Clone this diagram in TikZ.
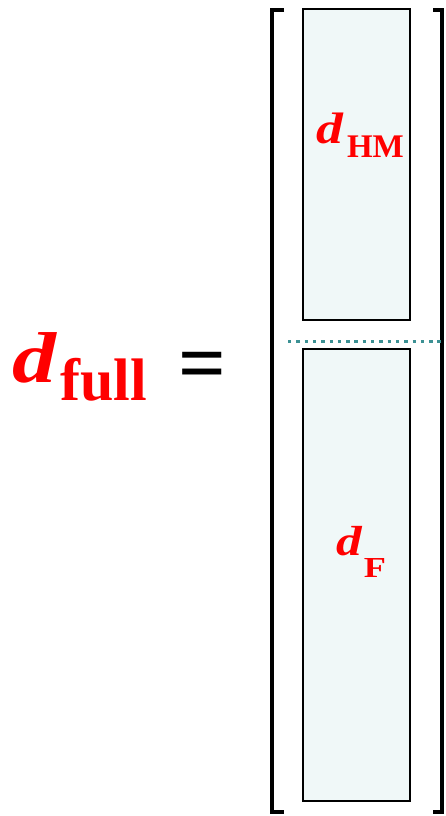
\documentclass[tikz,border=0pt]{standalone}
\usepackage{fontspec}
\usepackage{graphicx}
\setmainfont{Liberation Serif}
\definecolor{boxfill}{RGB}{240,248,248}
\definecolor{teal2}{RGB}{60,145,148}
\definecolor{lblred}{RGB}{255,0,0}
\newcommand{\wideglyph}[1]{\scalebox{1.22}[1]{#1}}
\begin{document}
\begin{tikzpicture}[x=1pt,y=-1pt,
  colbox/.style={draw=black,line width=2pt,fill=boxfill},
  brack/.style={draw=black,line width=4pt},
  lbl/.style={inner sep=0pt,anchor=base west,text=lblred}]
\useasboundingbox (0,0) rectangle (446,816);
% brackets
\draw[brack] (284,10) -- (271.5,10) -- (271.5,812) -- (284,812);
\draw[brack] (433,10) -- (442,10) -- (442,812) -- (433,812);
% boxes
\path[colbox] (303,9) rectangle (410,320);
\path[colbox] (303,349) rectangle (410,801);
% dotted separator
\coordinate (sepL) at (288,341.5);
\coordinate (sepR) at (446,341.5);
\draw[teal2,line width=3.4pt,dash pattern=on 3.4pt off 4.9pt] (sepL) -- (sepR);
% labels
\node[lbl] (dfull) at (12,382) {\fontsize{72}{72}\selectfont\bfseries\itshape \wideglyph{d}\hspace{4pt}\raisebox{-18pt}{\fontsize{60}{60}\selectfont\upshape full}};
\node[inner sep=0pt,anchor=base] (eq) at (202.5,391) {\fontsize{84}{84}\selectfont\bfseries =};
\node[lbl] (dhm) at (316,143) {\fontsize{44}{44}\selectfont\bfseries\itshape \wideglyph{d}\hspace{4pt}\raisebox{-14pt}{\fontsize{33}{33}\selectfont\upshape HM}};
\node[lbl] (df) at (336,555) {\fontsize{42}{42}\selectfont\bfseries\itshape \wideglyph{d}\hspace{2pt}\raisebox{-22pt}{\fontsize{29}{29}\selectfont\upshape\scalebox{1.25}[1]{F}}};
\end{tikzpicture}
\end{document}
